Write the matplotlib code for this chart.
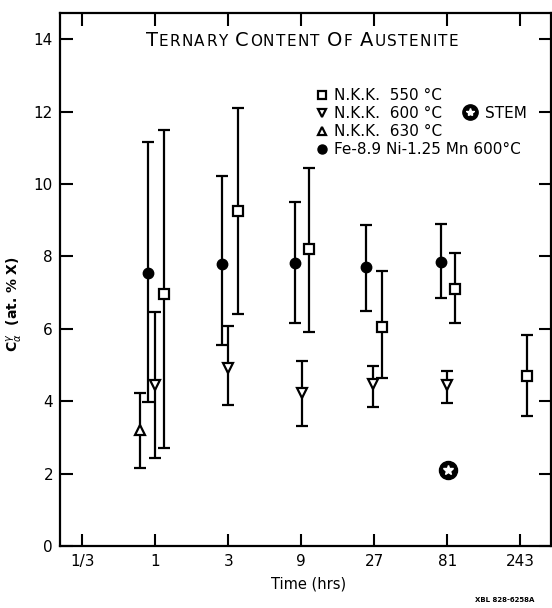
import matplotlib
matplotlib.use('Agg')
import matplotlib.pyplot as plt
from matplotlib.lines import Line2D
from matplotlib.legend_handler import HandlerTuple
from matplotlib.offsetbox import TextArea, HPacker, AnnotationBbox
from matplotlib.ticker import NullLocator, FixedLocator, FixedFormatter
import numpy as np

# ---------------- data ----------------
fe_t = [0.895, 2.72, 8.13, 23.8, 73.5]
fe_y = [7.55, 7.79, 7.81, 7.70, 7.84]
fe_lo = [3.99, 5.55, 6.15, 6.49, 6.86]
fe_hi = [11.17, 10.22, 9.51, 8.87, 8.90]

sq_t = [1.145, 3.45, 10.05, 30.3, 91.1, 268.0]
sq_y = [6.96, 9.25, 8.22, 6.06, 7.09, 4.70]
sq_lo = [2.71, 6.40, 5.90, 4.63, 6.15, 3.60]
sq_hi = [11.49, 12.09, 10.45, 7.60, 8.11, 5.83]

tri600_t = [1.0, 3.0, 9.05, 26.5, 80.1]
tri600_y = [4.45, 4.93, 4.23, 4.47, 4.45]
tri600_lo = [2.43, 3.91, 3.31, 3.83, 3.94]
tri600_hi = [6.47, 6.08, 5.12, 4.98, 4.84]

tri630_t = [0.799]
tri630_y = [3.20]
tri630_lo = [2.15]
tri630_hi = [4.23]

stem_t = [81.6]
stem_y = [2.10]

xticks = [1/3, 1, 3, 9, 27, 81, 243]
xticklabels = ['1/3', '1', '3', '9', '27', '81', '243']
yticks = [0, 2, 4, 6, 8, 10, 12, 14]
yticklabels = ['0', '2', '4', '6', '8', '10', '12', '14']

labels = ['N.K.K.  550 \u00b0C', 'N.K.K.  600 \u00b0C', 'N.K.K.  630 \u00b0C',
          'Fe-8.9 Ni-1.25 Mn 600\u00b0C']

# ---------------- figure ----------------
plt.rcParams['font.family'] = ['DejaVu Sans']
W, H = 552, 608
fig = plt.figure(figsize=(W / 100, H / 100), dpi=100)
ax = fig.add_axes([60 / W, 1 - 546 / H, 491 / W, 532.7 / H])

ax.set_xscale('log', base=3)
ax.set_xlim(3 ** -1.307, 3 ** 5.421)
ax.set_ylim(0, 14.72)

ek = dict(fmt='none', ecolor='black', elinewidth=1.6, capsize=4.3, capthick=1.6, zorder=2)


def eb(t, y, lo, hi):
    y = np.array(y); lo = np.array(lo); hi = np.array(hi)
    ax.errorbar(t, y, yerr=[y - lo, hi - y], **ek)


eb(fe_t, fe_y, fe_lo, fe_hi)
eb(sq_t, sq_y, sq_lo, sq_hi)
eb(tri600_t, tri600_y, tri600_lo, tri600_hi)
eb(tri630_t, tri630_y, tri630_lo, tri630_hi)

ax.plot(fe_t, fe_y, 'o', ms=7.5, mfc='black', mec='black', zorder=3)
ax.plot(sq_t, sq_y, 's', ms=6.5, mfc='white', mec='black', mew=1.6, zorder=3)
ax.plot(tri600_t, tri600_y, 'v', ms=7, mfc='white', mec='black', mew=1.6, zorder=3)
ax.plot(tri630_t, tri630_y, '^', ms=7, mfc='white', mec='black', mew=1.6, zorder=3)
ax.plot(stem_t, stem_y, 'o', ms=13, mfc='black', mec='black', zorder=3)
ax.plot(stem_t, stem_y, '*', ms=7, mfc='white', mec='white', zorder=4)

# ticks
ax.xaxis.set_major_locator(FixedLocator(xticks))
ax.xaxis.set_major_formatter(FixedFormatter(xticklabels))
ax.xaxis.set_minor_locator(NullLocator())
ax.set_yticks(yticks)
ax.set_yticklabels(yticklabels)
ax.tick_params(axis='both', which='major', direction='in', length=9, width=1.5,
               top=True, right=True, labelsize=11)
ax.tick_params(axis='x', pad=6)
ax.tick_params(axis='y', pad=5)
for s in ax.spines.values():
    s.set_linewidth(1.6)

ax.set_xlabel('Time (hrs)', fontsize=10.5)
ax.xaxis.set_label_coords(0.507, -0.057)
ax.set_ylabel(r'$\mathregular{C}_{\alpha}^{\gamma}$  (at. % X)', fontsize=10, fontweight='bold')
ax.yaxis.set_label_coords(-0.072, 0.454)

# legend
h_sq = Line2D([], [], marker='s', ls='none', ms=5.5, mfc='white', mec='black', mew=1.6)
h_v = Line2D([], [], marker='v', ls='none', ms=6, mfc='white', mec='black', mew=1.6)
h_t = Line2D([], [], marker='^', ls='none', ms=6, mfc='white', mec='black', mew=1.6)
h_fe = Line2D([], [], marker='o', ls='none', ms=6.5, mfc='black', mec='black')
leg = ax.legend([h_sq, h_v, h_t, h_fe], labels, loc='upper left',
                bbox_to_anchor=(316 / W, 1 - 88 / H), bbox_transform=fig.transFigure,
                frameon=False, fontsize=11, handlelength=0.8, handletextpad=0.4,
                labelspacing=0.2, borderpad=0, borderaxespad=0)
ax.add_artist(leg)
h_sc = Line2D([], [], marker='o', ls='none', ms=11, mfc='black', mec='black')
h_ss = Line2D([], [], marker='*', ls='none', ms=6, mfc='white', mec='white')
ax.legend([(h_sc, h_ss)], ['STEM'], handler_map={tuple: HandlerTuple(ndivide=1)},
          loc='center left', bbox_to_anchor=(462 / W, 1 - 113 / H),
          bbox_transform=fig.transFigure, frameon=False, fontsize=11,
          handlelength=1.0, handletextpad=0.5, borderpad=0, borderaxespad=0)

# small-caps title
words = ['Ternary', 'Content', 'of', 'Austenite']
parts = []
for i, w in enumerate(words):
    if i > 0:
        parts.append(TextArea(' ', textprops=dict(fontsize=12)))
    parts.append(TextArea(w[0].upper(), textprops=dict(fontsize=14)))
    for ch in w[1:].upper():
        parts.append(TextArea(ch, textprops=dict(fontsize=11)))
pack = HPacker(children=parts, align='baseline', pad=0, sep=0.9)
ab = AnnotationBbox(pack, (302 / W, 1 - 40 / H), xycoords='figure fraction',
                    frameon=False, box_alignment=(0.5, 0.5))
fig.add_artist(ab)

fig.text(475 / W, 1 - 600 / H, 'XBL 828-6258A', fontsize=5, fontweight='bold',
         va='center', ha='left')

fig.savefig('out.png', dpi=100)
